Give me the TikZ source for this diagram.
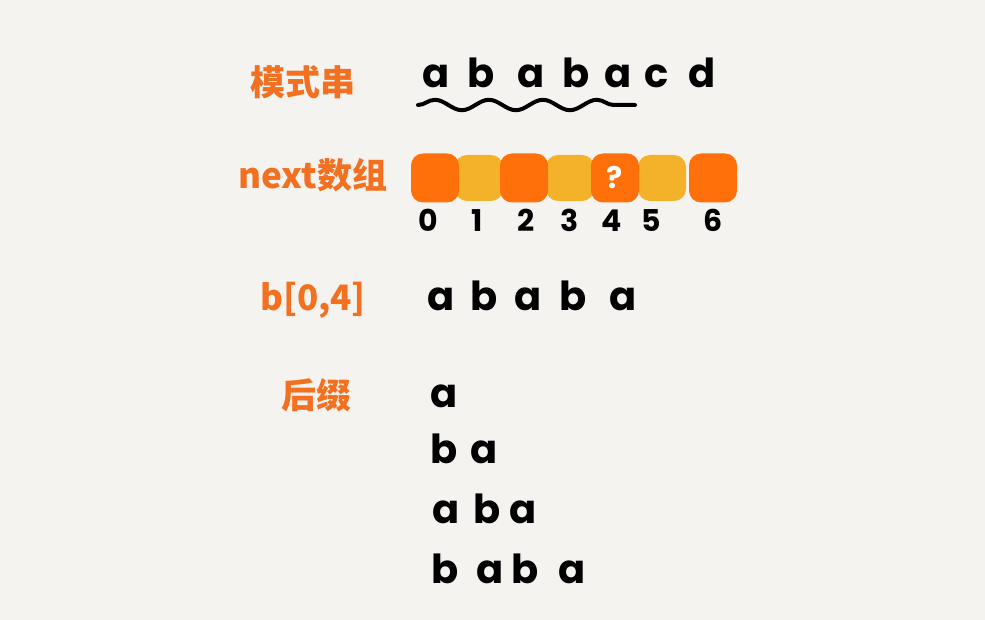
\documentclass[tikz,border=0pt]{standalone}
\usepackage{fontspec}
\setmainfont{Poppins}
\newfontfamily\cjk{Noto Sans CJK SC}
\usetikzlibrary{positioning,decorations.pathmorphing}
\definecolor{PaperBg}{RGB}{245,243,239}
\definecolor{LabelOrange}{RGB}{243,112,32}
\definecolor{CellDark}{RGB}{255,111,10}
\definecolor{CellLight}{RGB}{244,178,42}

\begin{document}
\begin{tikzpicture}[x=0.5pt,y=-0.5pt,
    lbl/.style={text=LabelOrange,font=\cjk\bfseries\fontsize{17.5}{17.5}\selectfont},
    chr/.style={anchor=base,font=\bfseries\fontsize{20}{20}\selectfont},
    num/.style={anchor=base,font=\bfseries\fontsize{15}{15}\selectfont},
    cell/.style={rounded corners=6pt,inner sep=0pt}]
  \fill[PaperBg] (0,0) rectangle (985,620);
  \useasboundingbox (0,0) rectangle (985,620);

  % labels
  \node[lbl] (lpat) at (303,82) {模式串};
  \node[lbl] (lnext) at (313,175) {next数组};
  \node[lbl] (lsub) at (313,300) {b[0,4]};
  \node[lbl] (lsuf) at (316,395) {后缀};

  % pattern string
  \foreach \x/\t [count=\k] in {436/a,481/b,531/a,576/b,618/a,657/c,702/d}
    \node[chr] (p\k) at (\x,88) {\t};
  \coordinate (ws) at (418,105);
  \coordinate (we) at (635,105);
  \draw[line width=2pt,line cap=round,decorate,
    decoration={snake,segment length=27pt,amplitude=2.6pt}] (ws) -- (we);

  % next array
  \foreach \x/\i in {479/1,570/3,662/5}
    \node[cell,fill=CellLight,minimum width=24pt,minimum height=23pt] (c\i) at (\x,178) {};
  \foreach \x/\i in {435/0,524/2,615/4,713/6}
    \node[cell,fill=CellDark,minimum width=24pt,minimum height=24.5pt] (c\i) at (\x,178) {};
  \node[text=white,font=\bfseries\fontsize{15}{15}\selectfont] (q) at (c4) {?};
  \foreach \x/\i in {428/0,477/1,526/2,570/3,612/4,651/5,713/6}
    \node[num] (n\i) at (\x,232) {\i};

  % b[0,4]
  \foreach \x/\t [count=\k] in {441/a,484/b,528/a,573/b,623/a}
    \node[chr] (s\k) at (\x,310) {\t};

  % suffixes
  \node[chr] (f1a) at (444,407) {a};
  \foreach \x/\t [count=\k] in {444/b,484/a}
    \node[chr] (f2\k) at (\x,463) {\t};
  \foreach \x/\t [count=\k] in {446/a,487/b,523/a}
    \node[chr] (f3\k) at (\x,523) {\t};
  \foreach \x/\t [count=\k] in {445/b,490/a,525/b,572/a}
    \node[chr] (f4\k) at (\x,583) {\t};
\end{tikzpicture}
\end{document}
